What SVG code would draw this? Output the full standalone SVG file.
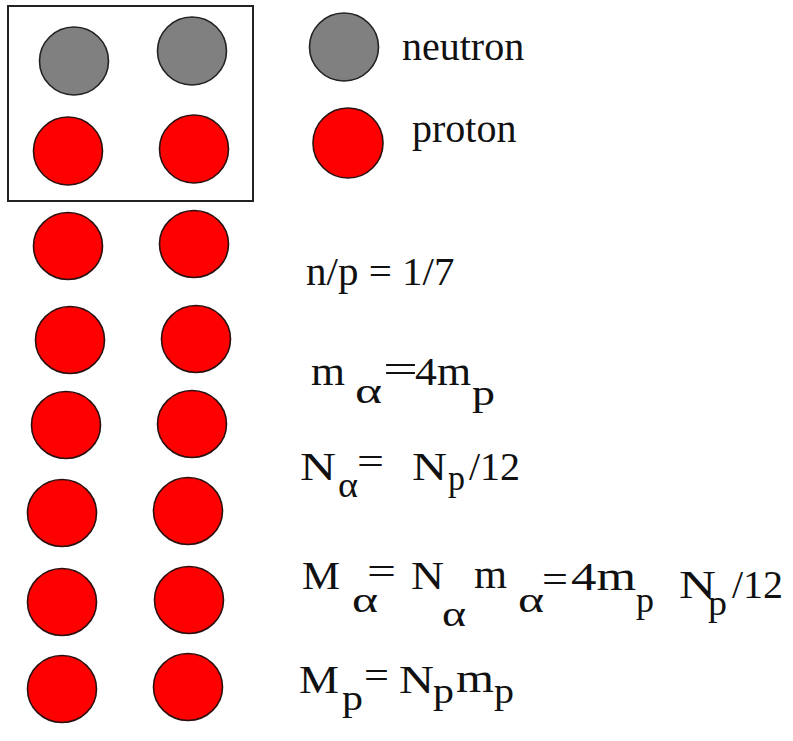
<svg xmlns="http://www.w3.org/2000/svg" width="793" height="741" viewBox="0 0 793 741">
<style>
.n{fill:#808080;stroke:#222;stroke-width:1.6}
.p{fill:#ff0000;stroke:#2a1010;stroke-width:1.6}
text{font-family:"Liberation Serif",Tinos,"Times New Roman",Times,FreeSerif,"Nimbus Roman","Nimbus Roman No9 L","DejaVu Serif","Noto Serif",serif;fill:#111}
.t{font-size:40px}
.s{font-size:36px}
</style>
<rect width="793" height="741" fill="#fff"/>
<g id="box"><rect x="8" y="6" width="245" height="195" fill="none" stroke="#222" stroke-width="2"/></g>
<g id="connectors"/>
<g id="nucleus">
<g id="n1"><ellipse class="n" cx="74" cy="61" rx="34.5" ry="34"/></g>
<g id="n2"><ellipse class="n" cx="192" cy="51" rx="34.5" ry="34"/></g>
<g id="p1"><ellipse class="p" cx="68" cy="151" rx="34.5" ry="34"/></g>
<g id="p2"><ellipse class="p" cx="194" cy="149" rx="34.5" ry="34"/></g>
</g>
<g id="protons">
<g id="p3"><ellipse class="p" cx="68" cy="246" rx="34.5" ry="33.5"/></g>
<g id="p4"><ellipse class="p" cx="194" cy="244" rx="34.5" ry="33.5"/></g>
<g id="p5"><ellipse class="p" cx="70" cy="340" rx="34.5" ry="33.5"/></g>
<g id="p6"><ellipse class="p" cx="196" cy="339" rx="34.5" ry="33.5"/></g>
<g id="p7"><ellipse class="p" cx="66" cy="425" rx="34.5" ry="33.5"/></g>
<g id="p8"><ellipse class="p" cx="192" cy="424" rx="34.5" ry="33.5"/></g>
<g id="p9"><ellipse class="p" cx="62" cy="513" rx="34.5" ry="33.5"/></g>
<g id="p10"><ellipse class="p" cx="188" cy="511" rx="34.5" ry="33.5"/></g>
<g id="p11"><ellipse class="p" cx="62" cy="602" rx="34.5" ry="33.5"/></g>
<g id="p12"><ellipse class="p" cx="189" cy="600" rx="34.5" ry="33.5"/></g>
<g id="p13"><ellipse class="p" cx="62" cy="689" rx="34.5" ry="33.5"/></g>
<g id="p14"><ellipse class="p" cx="188" cy="687" rx="34.5" ry="33.5"/></g>
</g>
<g id="legend-neutron"><ellipse class="n" cx="344" cy="47" rx="34.5" ry="34"/><text class="t" x="402" y="60">neutron</text></g>
<g id="legend-proton"><ellipse class="p" cx="348" cy="143" rx="35" ry="35"/><text class="t" x="412" y="142">proton</text></g>
<g id="eq1"><text class="t" x="306" y="285" style="font-size:41px">n/p = 1/7</text></g>
<g id="eq2">
<text class="t" x="311" y="385" textLength="34" lengthAdjust="spacingAndGlyphs">m</text>
<text class="s" x="355" y="403" textLength="27" lengthAdjust="spacingAndGlyphs">α</text>
<text class="t" x="383" y="383" textLength="35" lengthAdjust="spacingAndGlyphs">=</text>
<text class="t" x="415" y="385" textLength="56" lengthAdjust="spacingAndGlyphs">4m</text>
<text class="s" x="472" y="405" textLength="23" lengthAdjust="spacingAndGlyphs">p</text>
</g>
<g id="eq3">
<text class="t" x="300" y="480" textLength="36" lengthAdjust="spacingAndGlyphs">N</text>
<text class="s" x="338" y="497" textLength="20" lengthAdjust="spacingAndGlyphs">α</text>
<text class="t" x="357" y="475" textLength="27" lengthAdjust="spacingAndGlyphs">=</text>
<text class="t" x="412" y="480" textLength="35" lengthAdjust="spacingAndGlyphs">N</text>
<text class="s" x="448" y="490" textLength="17" lengthAdjust="spacingAndGlyphs">p</text>
<text class="t" x="469" y="480">/12</text>
</g>
<g id="eq4">
<text class="t" x="302" y="589" textLength="38" lengthAdjust="spacingAndGlyphs">M</text>
<text class="s" x="352" y="612" textLength="26" lengthAdjust="spacingAndGlyphs">α</text>
<text class="t" x="367" y="585" textLength="29" lengthAdjust="spacingAndGlyphs">=</text>
<text class="t" x="411" y="589" textLength="33" lengthAdjust="spacingAndGlyphs">N</text>
<text class="s" x="442" y="626" textLength="24" lengthAdjust="spacingAndGlyphs">α</text>
<text class="t" x="474" y="588" textLength="33" lengthAdjust="spacingAndGlyphs">m</text>
<text class="s" x="518" y="612" textLength="26" lengthAdjust="spacingAndGlyphs">α</text>
<text class="t" x="542" y="593" textLength="26" lengthAdjust="spacingAndGlyphs">=</text>
<text class="t" x="571" y="590" textLength="65" lengthAdjust="spacingAndGlyphs">4m</text>
<text class="s" x="636" y="612" textLength="18" lengthAdjust="spacingAndGlyphs">p</text>
<text class="t" x="679" y="598" textLength="37" lengthAdjust="spacingAndGlyphs">N</text>
<text class="s" x="708" y="615" textLength="19" lengthAdjust="spacingAndGlyphs">p</text>
<text class="t" x="732" y="598">/12</text>
</g>
<g id="eq5">
<text class="t" x="299" y="693" textLength="40" lengthAdjust="spacingAndGlyphs">M</text>
<text class="s" x="342" y="710" textLength="21" lengthAdjust="spacingAndGlyphs">p</text>
<text class="t" x="364" y="689" textLength="25" lengthAdjust="spacingAndGlyphs">=</text>
<text class="t" x="399" y="693" textLength="35" lengthAdjust="spacingAndGlyphs">N</text>
<text class="s" x="433" y="703" textLength="21" lengthAdjust="spacingAndGlyphs">p</text>
<text class="t" x="456" y="692" textLength="38" lengthAdjust="spacingAndGlyphs">m</text>
<text class="s" x="494" y="703" textLength="20" lengthAdjust="spacingAndGlyphs">p</text>
</g>
</svg>
